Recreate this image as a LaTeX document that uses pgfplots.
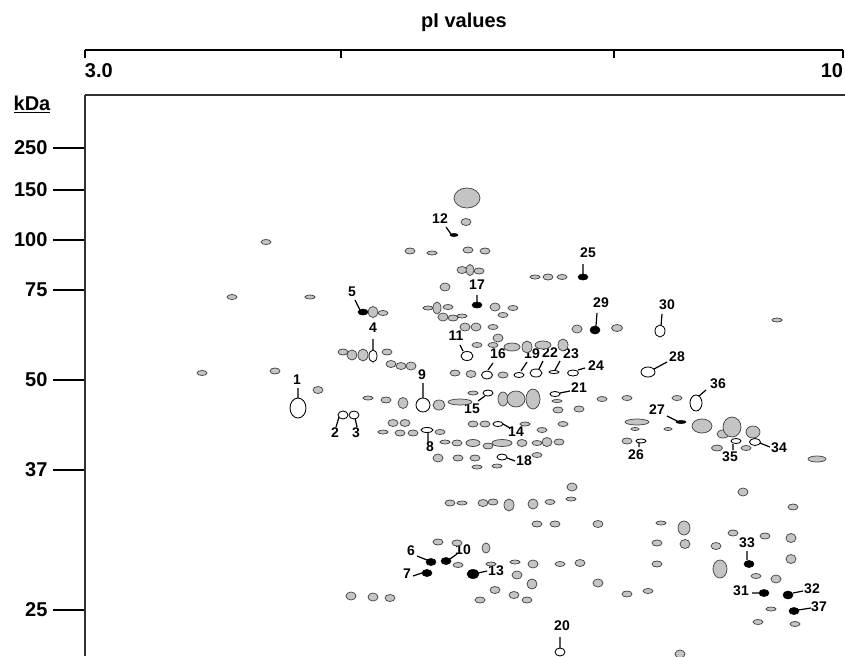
\documentclass[border=0pt]{standalone}
\usepackage{fontspec}
\setmainfont{Liberation Sans}
\usepackage{pgfplots}
\usepackage{pgfplotstable}
\pgfplotsset{compat=1.18}
\usetikzlibrary{calc}
\definecolor{spotgray}{RGB}{196,196,196}
\definecolor{spotedge}{RGB}{70,70,70}
\definecolor{axisgray}{RGB}{50,50,50}

\pgfdeclareplotmark{spot}{%
  \pgfpathellipse{\pgfpointorigin}{\pgfpoint{\rx pt}{0pt}}{\pgfpoint{0pt}{\ry pt}}%
  \pgfusepathqfillstroke}

% spot positions (pixel units of the gel map), half-widths rx, half-heights ry
\pgfplotstableread{
x y rx ry
467 198 13 10
466 222 5 3.5
266 242 5 2.5
410 251 5 3
432 253 5 2
468 250 5 3
485 251 5 3
462 270 5 3.5
479 271 5 3
470 270 4 5.5
445 287 5 4
535 277 5 2
548 277 5 3
562 277 5 2.5
232 297 5 2.5
310 297 5 2
373 312 5 5.5
383 313 5 2.5
495 307 5 4
513 308 5 2.5
503 315 5 2.5
428 308 5 2
448 307 5 2.5
437 308 4 6
443 317 5 4
453 318 5 3
462 316 5 2
577 329 5 4
617 328 5.5 3.5
777 320 5 2
465 327 5 4
476 327 5 4
493 327 5 2.5
498 338 5 4
477 345 5 2.5
493 345 5 2.5
512 347 8 4
527 347 5 6
543 345 8 4
563 345 5 6
387 352 5 3
343 352 5 3
352 355 5 5
363 355 5 6
391 364 5 3.5
401 366 5 3.5
411 366 5 4
202 373 5 2.5
275 371 5 3
455 373 5 3
471 374 5 3.5
503 375 5 3
318 390 5 3.5
368 398 5 2
386 400 5 3
403 403 5 5.5
439 405 6 5
460 402 12 3
473 393 5 2
503 399 5 7
516 399 9 8
533 399 7 10
557 401 5 1.5
558 410 5 3
579 409 5 3
602 399 5 2.5
627 398 5 2.5
677 398 5 2.5
393 423 5 3.5
405 423 5 3.5
383 432 5 2
400 433 5 3
413 433 5 3
440 432 5 2.5
473 424 5 3
485 424 5 3
525 424 5 2
542 430 5 2.5
563 424 5 2.5
637 422 12 3
635 429 4 1.5
668 429 4 1.5
702 426 10 7
723 434 6 4
732 427 9 10
753 432 7 6
445 442 5 2
457 443 5 3
473 443 7 3.5
488 446 5 3
502 443 10 3.5
522 443 5 3.5
537 443 5 2.5
547 442 5 4.5
559 442 5 3
627 441 5 3
717 448 5.5 3
746 448 5 2.5
817 459 9 3
438 458 5 4
458 458 5 3
475 458 5 3
537 455 5 2.5
477 467 5 2
497 466 5 2
572 487 5 4
571 499 5 2
450 503 5 3
462 503 5 2
483 503 5 3.5
493 502 5 3
509 505 5 6
533 504 5 5
550 502 5 2.5
743 492 5 4
793 507 5 3
537 524 5 3
555 524 5 3
598 524 5 3.5
661 523 5 2
684 528 6 7
733 533 5 3
765 536 5 3
791 538 5 4.5
438 542 5 3
457 543 5 3
486 548 4 5
657 543 5 3
685 544 5 4.5
716 546 5 3.5
458 565 5 2.5
491 564 5 2
515 562 5 2
533 564 5 4
560 564 5 2.5
580 563 5 3.5
657 564 5 3
720 569 7 9
791 559 5 4.5
517 575 5 4
532 584 5 5
598 583 5 4
756 576 5 2.5
776 579 5 4
495 590 5 3.5
514 595 5 3.5
480 600 5 3
527 600 5 3
351 596 5 4
373 597 5 4
390 598 5 3.5
627 594 5 3
648 591 5 2.5
771 609 5 2
758 622 5 2.5
795 624 5 2.5
680 654 5 4
}\graysp

\pgfplotstableread{
x y rx ry
298 408 8 10
343 415 5 4
354 415 5 4
373 356 4 6
427 430 6 2.5
423 405 7 7
467 356 6 4.5
498 424 5 2.5
488 393 5 3
487 375 5.5 4
502 457 5 3
519 375 5 2.5
560 652 5 4
555 394 5 2.5
536 373 6 4
554 372 5 1.5
573 373 5.5 3
641 441 5 2
648 372 7 5
660 331 5 6
755 442 5.5 3.5
736 441 5 2.5
696 403 6 8
}\whitesp

\pgfplotstableread{
x y rx ry
363 312 5 3
431 562 5 3.5
427 573 5 3.5
446 561 5 3.5
454 235 4 1.5
473 574 6 4.5
477 305 5 3
583 277 5 3
681 422 5 1.5
595 330 5 4
764 593 5 3.5
788 595 5 4
749 564 5 3.5
794 611 5 3.5
}\blacksp

\begin{document}
\begin{tikzpicture}
\begin{axis}[name=main,
  x=1pt, y=1pt,
  xmin=85, xmax=845, ymin=95, ymax=656,
  y dir=reverse,
  clip=false,
  axis x line=none,
  axis y line*=left,
  axis line style={axisgray, line width=1.3pt},
  xtick=\empty,
  ytick={148,190,240,290,380,470,610},
  yticklabels={250,150,100,75,50,37,25},
  tick align=outside,
  major tick length=32pt,
  tick style={black, line width=1.2pt},
  yticklabel style={font=\bfseries\fontsize{20}{20}\selectfont, xshift=-2pt},
]
\coordinate (tl) at (axis cs:0,0);
\coordinate (br) at (axis cs:845,656);
% top frame line
\addplot[axisgray, line width=1.3pt] coordinates {(85,95) (845,95)};

\addplot[only marks, mark=spot,
  visualization depends on={\thisrow{rx}\as\rx},
  visualization depends on={\thisrow{ry}\as\ry},
  mark options={fill=spotgray, draw=spotedge, line width=0.75pt}] table {\graysp};
\addplot[only marks, mark=spot,
  visualization depends on={\thisrow{rx}\as\rx},
  visualization depends on={\thisrow{ry}\as\ry},
  mark options={fill=white, draw=black, line width=0.85pt}] table {\whitesp};
\addplot[only marks, mark=spot,
  visualization depends on={\thisrow{rx}\as\rx},
  visualization depends on={\thisrow{ry}\as\ry},
  mark options={fill=black, draw=black, line width=0.6pt}] table {\blacksp};

% leader lines
\addplot[black, line width=1.2pt, unbounded coords=jump] table {
x y
298 388
298 398
nan nan
339 417
336 427
nan nan
355 418
357 427
nan nan
373 339
373 350
nan nan
355 300
360 310
nan nan
417 556
427 560
nan nan
413 576
422 573
nan nan
428 433
428 442
nan nan
423 383
423 398
nan nan
450 559
457 554
nan nan
460 345
463 351
nan nan
446 227
451 234
nan nan
478 573
487 571
nan nan
503 424
510 428
nan nan
478 401
485 396
nan nan
488 370
493 363
nan nan
477 295
477 303
nan nan
507 458
515 461
nan nan
521 371
527 362
nan nan
560 637
560 648
nan nan
560 393
570 391
nan nan
539 369
543 361
nan nan
555 370
560 361
nan nan
578 370
585 368
nan nan
583 264
583 274
nan nan
639 443
639 447
nan nan
667 416
677 421
nan nan
654 369
667 362
nan nan
597 313
596 326
nan nan
662 314
661 326
nan nan
752 593
759 593
nan nan
793 593
803 591
nan nan
747 551
747 560
nan nan
760 443
770 447
nan nan
733 444
733 450
nan nan
699 396
706 390
nan nan
798 610
811 608
};

\tikzset{lab/.style={font=\bfseries\fontsize{14}{14}\selectfont, inner sep=0pt}}
\node[lab] at (axis cs:297,380) {1};
\node[lab] at (axis cs:335,433) {2};
\node[lab] at (axis cs:356,433) {3};
\node[lab] at (axis cs:373,328) {4};
\node[lab] at (axis cs:352,292) {5};
\node[lab] at (axis cs:411,551) {6};
\node[lab] at (axis cs:407,574) {7};
\node[lab] at (axis cs:430,447) {8};
\node[lab] at (axis cs:422,375) {9};
\node[lab] at (axis cs:463,550) {10};
\node[lab] at (axis cs:456,336) {11};
\node[lab] at (axis cs:440,219) {12};
\node[lab] at (axis cs:496,571) {13};
\node[lab] at (axis cs:516,432) {14};
\node[lab] at (axis cs:472,409) {15};
\node[lab] at (axis cs:498,354) {16};
\node[lab] at (axis cs:477,285) {17};
\node[lab] at (axis cs:524,461) {18};
\node[lab] at (axis cs:532,354) {19};
\node[lab] at (axis cs:550,353) {22};
\node[lab] at (axis cs:571,354) {23};
\node[lab] at (axis cs:596,366) {24};
\node[lab] at (axis cs:562,626) {20};
\node[lab] at (axis cs:579,388) {21};
\node[lab] at (axis cs:588,253) {25};
\node[lab] at (axis cs:636,455) {26};
\node[lab] at (axis cs:657,410) {27};
\node[lab] at (axis cs:677,357) {28};
\node[lab] at (axis cs:601,303) {29};
\node[lab] at (axis cs:667,305) {30};
\node[lab] at (axis cs:741,591) {31};
\node[lab] at (axis cs:812,589) {32};
\node[lab] at (axis cs:747,543) {33};
\node[lab] at (axis cs:779,448) {34};
\node[lab] at (axis cs:730,457) {35};
\node[lab] at (axis cs:718,384) {36};
\node[lab] at (axis cs:819,607) {37};

\node[font=\bfseries\fontsize{20}{20}\selectfont, inner sep=0pt] at (axis cs:32,104) {\underline{kDa}};
\end{axis}

\begin{axis}[name=pI,
  at={($(main.north west)+(0,45pt)$)}, anchor=south west,
  x=1pt, y=1pt,
  xmin=85, xmax=843, ymin=0, ymax=1,
  clip=false,
  axis x line*=bottom,
  axis y line=none,
  axis line style={black, line width=1.3pt},
  xtick={85,341,614,843},
  xticklabels={\makebox[0pt][l]{3.0},,,\makebox[0pt][r]{10}},
  tick align=outside,
  major tick length=8pt,
  tick style={black, line width=1.2pt},
  xticklabel style={font=\bfseries\fontsize{20}{20}\selectfont, anchor=north, yshift=-2pt},
  title={pI values},
  title style={font=\bfseries\fontsize{20}{20}\selectfont, at={(axis description cs:0.5,1)}, anchor=center, yshift=21pt},
]
\addplot[draw=none] coordinates {(85,0) (843,0)};
\end{axis}
\pgfresetboundingbox
\path (tl) rectangle (br);
\end{tikzpicture}
\end{document}
